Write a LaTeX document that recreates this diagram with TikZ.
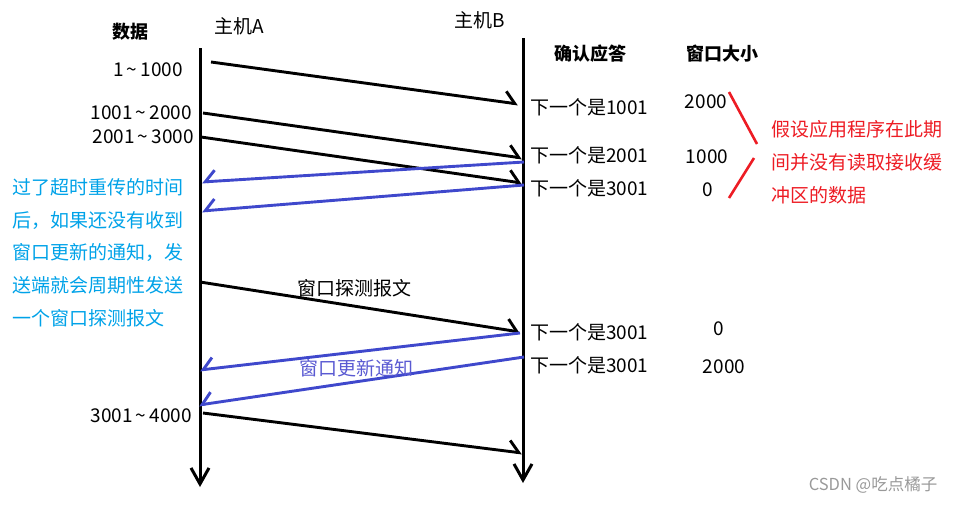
\documentclass[tikz,border=0pt]{standalone}
\usepackage{fontspec}
\setmainfont{Noto Sans CJK SC}
\usetikzlibrary{arrows.meta,positioning}
\definecolor{ackblue}{HTML}{3F48CC}
\definecolor{updblue}{HTML}{5A5AD2}
\definecolor{noteblue}{HTML}{00A2E8}
\definecolor{notered}{HTML}{ED1C24}

\begin{document}
\begin{tikzpicture}[
  x=1pt, y=-1pt,
  every node/.style={font=\fontsize{19}{32.6}\selectfont, inner sep=0pt},
  head/.style={font=\fontsize{18}{22}\selectfont\bfseries},
  seg/.style={anchor=east},
  ackmsg/.style={anchor=west},
  lifeline/.style={-{Straight Barb[length=16pt,width=18pt]}, line width=3pt},
  msg/.style={-{Straight Barb[harpoon,length=10pt,width=22pt]}, line width=2.9pt},
  ack/.style={ackblue, -{Straight Barb[harpoon,swap,length=10pt,width=22pt]}, line width=2.9pt},
  note/.style={align=left, anchor=base west},
  brace/.style={notered, line width=2.6pt},
]
\useasboundingbox (0,0) rectangle (958,504);

% Headers
\node[head] (datahd) at (130,32) {数据};
\node (hostA) at (239,26) {主机A};
\node (hostB) at (480,20) {主机B};
\node[head] (ackhd) at (590,54) {确认应答};
\node[head] (winhd) at (722,54) {窗口大小};

% Lifelines
\coordinate (Atop) at (200,48);
\coordinate (Abot) at (200,487);
\coordinate (Btop) at (523,38);
\coordinate (Bbot) at (523,483);
\draw[lifeline] (Atop) -- (Abot);
\draw[lifeline] (Btop) -- (Bbot);

% Segments sent by A
\node[seg] (d1) at (183,70) {1\,\textasciitilde\,1000};
\node[seg] (d2) at (192,113) {1001\,\textasciitilde\,2000};
\node[seg] (d3) at (194,137) {2001\,\textasciitilde\,3000};
\node[seg] (d4) at (192,416) {3001\,\textasciitilde\,4000};

\coordinate (s1a) at (211,62);  \coordinate (s1b) at (518,104);
\coordinate (s2a) at (203,113); \coordinate (s2b) at (522,158);
\coordinate (s3a) at (201,137); \coordinate (s3b) at (522,183);
\coordinate (s4a) at (200,282); \coordinate (s4b) at (520,332);
\coordinate (s5a) at (203,413); \coordinate (s5b) at (522,453);
\draw[msg] (s1a) -- (s1b);
\draw[msg] (s2a) -- (s2b);
\draw[msg] (s3a) -- (s3b);
\draw[msg] (s4a) -- (s4b);
\draw[msg] (s5a) -- (s5b);

% Acknowledgements from B
\coordinate (k1b) at (524,162); \coordinate (k1a) at (202,182);
\coordinate (k2b) at (524,185); \coordinate (k2a) at (202,211);
\coordinate (k3b) at (520,333); \coordinate (k3a) at (200,370);
\coordinate (k4b) at (524,357); \coordinate (k4a) at (199,405);
\draw[ack] (k1b) -- (k1a);
\draw[ack] (k2b) -- (k2a);
\draw[ack] (k3b) -- (k3a);
\draw[ack] (k4b) -- (k4a);

\node[ackmsg] (n1) at (530,107) {下一个是1001};
\node[ackmsg] (n2) at (530,155) {下一个是2001};
\node[ackmsg] (n3) at (530,188) {下一个是3001};
\node[ackmsg] (n4) at (530,332) {下一个是3001};
\node[ackmsg] (n5) at (530,365) {下一个是3001};

% Window sizes
\node (w1) at (706,102) {2000};
\node (w2) at (707,157) {1000};
\node (w3) at (708,190) {0};
\node (w4) at (719,329) {0};
\node (w5) at (724,367) {2000};

% Message labels
\node (probe) at (354,288) {窗口探测报文};
\node[text=updblue] (update) at (356,368) {窗口更新通知};

% Notes (base anchor sits on the last line)
\coordinate (r1a) at (729,92);  \coordinate (r1b) at (757,144);
\coordinate (r2a) at (754,158); \coordinate (r2b) at (729,198);
\draw[brace] (r1a) -- (r1b);
\draw[brace] (r2a) -- (r2b);
\node[note, text=notered] (rednote) at (771,202) {假设应用程序在此期\\间并没有读取接收缓\\冲区的数据};
\node[note, text=noteblue] (bluenote) at (12,325) {过了超时重传的时间\\后，如果还没有收到\\窗口更新的通知，发\\送端就会周期性发送\\一个窗口探测报文};

\node[text=gray!80, font=\fontsize{16.5}{19}\selectfont] (mark) at (873,485) {CSDN @吃点橘子};
\end{tikzpicture}
\end{document}
